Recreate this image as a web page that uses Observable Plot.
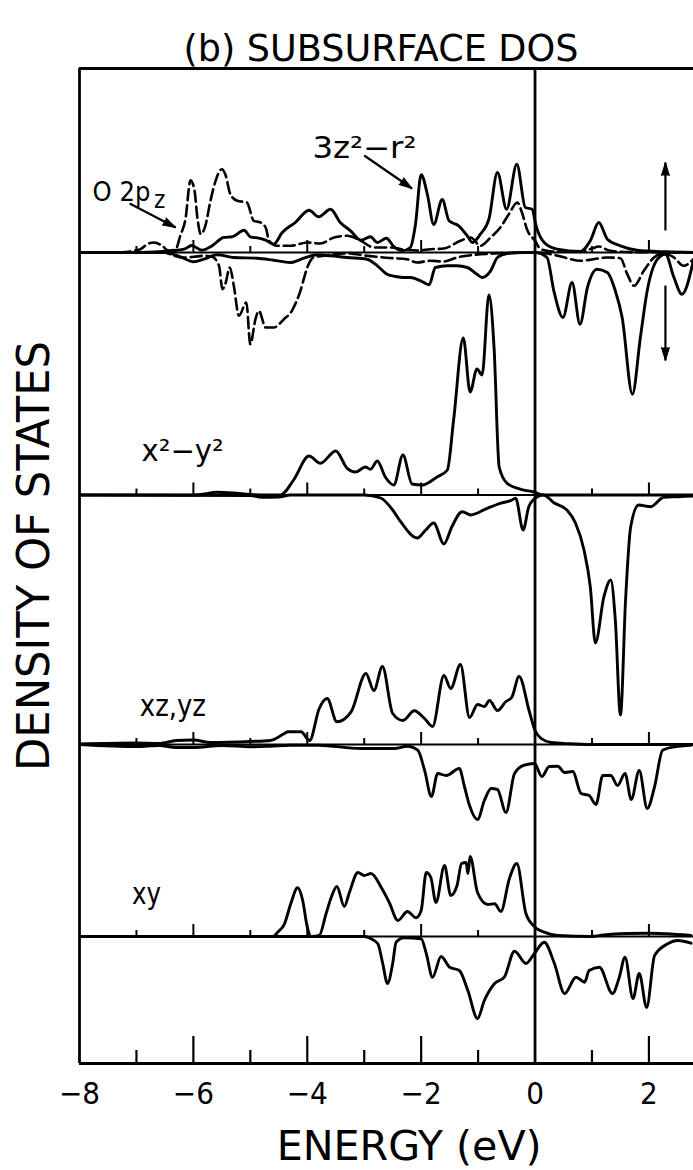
<!DOCTYPE html>
<html>
<head>
<meta charset="utf-8">
<script src="https://cdn.jsdelivr.net/npm/d3@7"></script>
<script src="https://cdn.jsdelivr.net/npm/@observablehq/plot@0.6"></script>
<style>
  html, body { margin: 0; padding: 0; background: #fff; }
  #wrap { position: relative; width: 693px; height: 1170px; overflow: hidden; background: #fff; }
  #chart { position: absolute; left: 0; top: 60px; }
  #title { position: absolute; left: 0; top: 0; }
</style>
</head>
<body>
<div id="wrap">
  <div id="chart"></div>
  <svg id="title" width="693" height="72"><text x="381" y="61" text-anchor="middle"
    font-family="'DejaVu Sans Condensed','Liberation Sans Narrow','Liberation Sans',Arial,sans-serif"
    font-size="38" textLength="395" lengthAdjust="spacingAndGlyphs" fill="#000">(b) SUBSURFACE DOS</text></svg>
</div>
<script>
// ---------------- data (DOS in arbitrary units; energy in eV) ----------------
const energyTicks = [-8, -7, -6, -5, -4, -3, -2, -1, 0, 1, 2];
const energyLabels = [-8, -6, -4, -2, 0, 2];
const panels = ["3z2-r2", "x2-y2", "xz,yz", "xy"];
const panelBase = [811, 568.5, 319, 127];   // vertical offset of each panel's zero line

// 3z^2 - r^2 : majority (up) and minority (down)
const z2Up = [[-8,0],[-6.93,0],[-6.4,1.7],[-6.16,3.3],[-6.03,7],[-5.85,2.3],[-5.67,6.7],[-5.47,15],[-5.32,15.7],[-5.11,22.3],[-5.0,15.7],[-4.85,14.3],[-4.73,12.3],[-4.59,8.3],[-4.44,20],[-4.21,30],[-3.97,42.3],[-3.8,35.7],[-3.59,43.3],[-3.42,30],[-3.24,21.7],[-3.06,12.3],[-2.89,15.7],[-2.77,10],[-2.61,14.3],[-2.48,6],[-2.33,1.7],[-2.19,5],[-2.1,28],[-2.0,77.7],[-1.89,58],[-1.78,28],[-1.63,53],[-1.51,31.7],[-1.34,26.7],[-1.19,16.7],[-1.1,10],[-0.96,18.3],[-0.81,33.3],[-0.66,80],[-0.5,43.3],[-0.32,88.3],[-0.17,45],[-0.05,43.3],[0.01,28.3],[0.16,10],[0.39,3.3],[0.8,1],[0.97,11.7],[1.12,30],[1.27,13.3],[1.5,6.7],[1.79,2.3],[2.3,0.7],[2.8,0]];
const z2Down = [[-8,0],[-6.5,0],[-6.23,4.3],[-5.99,9.3],[-5.82,6.7],[-5.58,2.3],[-5.29,5],[-4.88,5.7],[-4.59,7.7],[-4.3,10],[-4.06,5.7],[-3.83,2.3],[-3.59,3.3],[-3.3,5],[-2.95,6.7],[-2.77,13.3],[-2.6,21.7],[-2.45,24],[-2.3,25],[-2.19,25],[-2.01,28.3],[-1.86,32.3],[-1.75,15],[-1.54,13.3],[-1.37,13.3],[-1.19,15],[-1.02,21.7],[-0.93,25],[-0.78,18.3],[-0.66,5],[-0.49,1],[-0.2,0],[0,0],[0.21,5],[0.33,38.3],[0.49,65],[0.65,30],[0.79,71.7],[0.92,35],[1.09,16.7],[1.27,20],[1.41,38.3],[1.53,65],[1.71,141.7],[1.85,85],[1.97,38.3],[2.15,6.7],[2.29,1.7],[2.44,25],[2.58,41.7],[2.78,8.3]];
// O 2p_z : majority (up) and minority (down), dashed
const o2pUp = [[-7.3,0],[-6.93,3.3],[-6.81,8.3],[-6.69,10],[-6.55,6.7],[-6.43,1.7],[-6.31,3.3],[-6.23,16.7],[-6.14,33],[-6.05,72.3],[-5.98,61.7],[-5.93,35],[-5.87,18.3],[-5.79,26.7],[-5.7,51.7],[-5.61,71.7],[-5.5,83.3],[-5.44,78.3],[-5.35,58.3],[-5.23,51.7],[-5.06,50],[-4.94,31.7],[-4.82,30],[-4.73,25],[-4.67,11.7],[-4.53,6.7],[-4.29,6.7],[-4.0,10],[-3.77,9],[-3.53,15],[-3.3,16.7],[-3.06,11.7],[-2.83,5],[-2.55,5],[-2.3,3],[-2.07,2],[-1.84,3.3],[-1.6,4],[-1.31,11.7],[-1.13,15],[-0.96,6.7],[-0.78,15],[-0.61,25],[-0.46,38.3],[-0.31,50],[-0.23,40],[-0.14,23],[0,11.7],[0.1,3.3],[0.33,1],[0.8,1],[1.0,4],[1.12,6],[1.3,2],[1.6,0.5],[2.8,0]];
const o2pDown = [[-8,0],[-6.5,0],[-6.34,3.3],[-6.17,5],[-5.99,4.3],[-5.82,3.3],[-5.67,4.3],[-5.55,13.3],[-5.49,36.7],[-5.44,31.7],[-5.36,15],[-5.29,33.3],[-5.2,63.3],[-5.07,50],[-5.0,91.7],[-4.91,66.7],[-4.85,58.3],[-4.73,75],[-4.59,75],[-4.41,66.7],[-4.27,58.3],[-4.12,38.3],[-4.0,15],[-3.89,5],[-3.65,2.7],[-3.3,1],[-2.95,3.3],[-2.66,5],[-2.48,5.7],[-2.25,6.7],[-2.07,10],[-1.84,8.3],[-1.6,9],[-1.37,5],[-1.07,2.3],[-0.72,1],[0,0],[0.33,2.3],[0.56,5.7],[0.8,8.3],[1.03,6.7],[1.27,5],[1.5,5.7],[1.62,21.7],[1.74,33.3],[1.91,18.3],[2.09,5],[2.26,1],[2.44,5],[2.61,13.3],[2.78,6.7]];
// x^2 - y^2
const x2Up = [[-8,0],[-6.0,0],[-5.8,1],[-5.6,2.7],[-5.3,2],[-5.0,0.5],[-4.7,0],[-4.47,0],[-4.24,15],[-3.97,39],[-3.77,31.7],[-3.5,44],[-3.3,26.7],[-3.15,23],[-2.98,28],[-2.89,25.7],[-2.77,34],[-2.63,18],[-2.48,10],[-2.32,40],[-2.16,11],[-1.98,10],[-1.72,18],[-1.54,25],[-1.43,75],[-1.26,157],[-1.14,103],[-1.02,126],[-0.93,120],[-0.81,200],[-0.72,148],[-0.63,28],[-0.49,11.7],[-0.25,5.7],[-0.02,3],[0.15,0],[2.8,0]];
const x2Down = [[-8,0],[-5.0,0.5],[-4.8,2.3],[-4.5,2],[-4.3,0],[-3.0,0],[-2.71,3],[-2.5,15],[-2.36,26.7],[-2.07,43],[-1.92,35],[-1.78,28],[-1.6,49],[-1.46,31.7],[-1.28,16.7],[-1.13,20],[-0.84,13.3],[-0.61,8.3],[-0.43,5.7],[-0.34,3.3],[-0.21,35],[-0.11,11.7],[-0.02,4.3],[0.15,0],[0.33,7.7],[0.56,15],[0.71,28],[0.86,55],[0.97,91.7],[1.06,148],[1.21,101.7],[1.33,85],[1.41,125],[1.5,220],[1.59,105],[1.68,31.7],[1.82,10],[2.03,11.7],[2.26,2.3],[2.5,1.7],[2.78,1]];
// xz, yz
const xzUp = [[-8,0.5],[-7.0,1.5],[-6.6,1],[-6.3,4],[-6.0,4.5],[-5.7,2],[-5.0,3],[-4.65,4],[-4.4,11],[-4.34,12.7],[-4.11,12.7],[-3.96,4],[-3.79,36],[-3.65,46],[-3.48,22.7],[-3.23,32.7],[-2.97,71],[-2.83,54],[-2.68,78],[-2.5,31],[-2.32,24],[-2.12,33.7],[-1.94,26],[-1.8,18],[-1.6,69],[-1.48,56],[-1.31,80],[-1.15,27],[-1.01,40],[-0.89,38],[-0.8,44],[-0.66,34],[-0.51,43],[-0.41,47],[-0.28,68],[-0.1,33],[0,14],[0.11,6],[0.28,2],[0.6,0.7],[1.0,0],[2.8,0]];
const xzDown = [[-8,0],[-7.0,2],[-6.6,1],[-6.3,3],[-6.0,3],[-5.5,1],[-5.0,2.3],[-4.65,1.7],[-4.3,0.7],[-3.8,0.7],[-3.06,4],[-2.47,4],[-2.24,1.7],[-2.06,5.7],[-1.94,25.7],[-1.82,52],[-1.71,29],[-1.56,31],[-1.33,24],[-1.24,42],[-1.15,61],[-1.01,75],[-0.89,56],[-0.77,44],[-0.66,45],[-0.51,68],[-0.36,29],[-0.19,20.7],[-0.01,19],[0.12,32],[0.25,22],[0.4,21.7],[0.52,28],[0.66,27],[0.81,49],[0.95,51],[1.07,60],[1.19,31],[1.33,31],[1.45,41],[1.58,29],[1.69,55],[1.83,26],[1.97,64],[2.1,42],[2.24,5.7],[2.45,2.3],[2.74,0.7]];
// xy
const xyUp = [[-8,0],[-4.6,0],[-4.52,4.3],[-4.4,12.7],[-4.29,32.7],[-4.17,48.7],[-4.08,36],[-4.0,9.3],[-3.93,0],[-3.79,1],[-3.67,22.7],[-3.58,39],[-3.48,50],[-3.35,30],[-3.26,44],[-3.11,64],[-3.0,61],[-2.88,63],[-2.7,49],[-2.56,34],[-2.41,16],[-2.24,25],[-2.09,18.7],[-2.0,26],[-1.91,64],[-1.83,59],[-1.74,34],[-1.59,71],[-1.48,41],[-1.37,51],[-1.29,73],[-1.21,74],[-1.18,63],[-1.14,80],[-1.01,44],[-0.83,32],[-0.71,32.7],[-0.6,25],[-0.45,58],[-0.32,73],[-0.16,23],[0,9.3],[0.16,4.3],[0.4,1],[1.0,0],[1.2,1.5],[1.6,3],[2.0,3.3],[2.3,2.7],[2.74,1]];
const xyDown = [[-8,0],[-3.0,0],[-2.88,2.3],[-2.76,7.3],[-2.68,25.7],[-2.59,47],[-2.5,27],[-2.44,5.7],[-2.3,1.3],[-2.0,2.3],[-1.91,17],[-1.8,40.7],[-1.65,20],[-1.5,30.7],[-1.33,34],[-1.18,54],[-1.01,82],[-0.89,64],[-0.71,47],[-0.54,40.7],[-0.36,14.7],[-0.16,27],[-0.01,17],[0.16,5.7],[0.34,27],[0.52,57],[0.72,40.7],[0.87,45.7],[0.95,34],[1.13,30.7],[1.36,57],[1.48,40.7],[1.58,20.7],[1.72,62],[1.83,37],[1.96,71],[2.1,19],[2.33,7.3],[2.51,4],[2.74,6.7]];

// annotations (energy, DOS-axis position)
const panelLabels = [
  {text: "x\u00b2\u2212y\u00b2", e: -6.91, y: 603, w: 82},
  {text: "xz,yz", e: -6.94, y: 348, w: 66},
  {text: "xy", e: -7.08, y: 160, w: 29}
];
const curveLabels = [
  {text: "3z\u00b2\u2212r\u00b2", e: -3.91, y: 906, w: 104, size: 30},
  {text: "O 2p", e: -7.77, y: 863, w: null, size: 27},
  {text: "z", e: -6.69, y: 856, w: null, size: 24}
];
const pointerArrows = [
  {e1: -3.0, y1: 908, e2: -2.16, y2: 875, dash: null},
  {e1: -7.12, y1: 860, e2: -6.31, y2: 836, dash: null},
  {e1: 2.29, y1: 833, e2: 2.29, y2: 901, dash: "8,5"},
  {e1: 2.29, y1: 778, e2: 2.29, y2: 703, dash: "8,5"}
];
const xLabel = "ENERGY (eV)";
const yLabel = "DENSITY OF STATES";

// ---------------- build ----------------
const FONT = "'DejaVu Sans Condensed','Liberation Sans Narrow','Liberation Sans',Arial,sans-serif";
const W = 693, H = 1110, mL = 79, mR = 0, mT = 8, mB = 107;
const xDom = [-8, 2.783], yDom = [0, 995];
const pxPerE = (W - mL - mR) / (xDom[1] - xDom[0]);
const pxPerY = (H - mT - mB) / (yDom[1] - yDom[0]);

function toRows(pairs, base, sign, id) {
  return pairs.map(([e, v]) => ({e, y: base + sign * v, id}));
}
const solid = [
  ...toRows(z2Up, panelBase[0], 1, "z2u"), ...toRows(z2Down, panelBase[0], -1, "z2d"),
  ...toRows(x2Up, panelBase[1], 1, "x2u"), ...toRows(x2Down, panelBase[1], -1, "x2d"),
  ...toRows(xzUp, panelBase[2], 1, "xzu"), ...toRows(xzDown, panelBase[2], -1, "xzd"),
  ...toRows(xyUp, panelBase[3], 1, "xyu"), ...toRows(xyDown, panelBase[3], -1, "xyd")
];
const dashed = [...toRows(o2pUp, panelBase[0], 1, "ou"), ...toRows(o2pDown, panelBase[0], -1, "od")];

const inner = energyTicks.filter(t => t !== -8 && t !== 0);
const baseTicks = panelBase.flatMap(b => inner.map(t => ({e: t, y1: b, y2: b + (t % 2 === 0 ? 12 : 6) / pxPerY})));
const axisTicks = inner.map(t => ({e: t, y1: yDom[0], y2: yDom[0] + (t % 2 === 0 ? 27 : 13) / pxPerY}));

const heads = pointerArrows.map(a => ({
  e: a.e2, y: a.y2,
  rot: Math.atan2((a.e2 - a.e1) * pxPerE, (a.y2 - a.y1) * pxPerY) * 180 / Math.PI
}));

const fmt = d => d < 0 ? "\u2212" + (-d) : String(d);

const chart = Plot.plot({
  width: W, height: H,
  marginLeft: mL, marginRight: mR, marginTop: mT, marginBottom: mB,
  x: {domain: xDom, axis: null},
  y: {domain: yDom, axis: null},
  style: {fontFamily: FONT, background: "white", color: "black", overflow: "visible"},
  marks: [
    Plot.ruleY(panelBase, {stroke: "black", strokeWidth: 2.2}),
    Plot.ruleX(baseTicks, {x: "e", y1: "y1", y2: "y2", stroke: "black", strokeWidth: 2}),
    Plot.ruleX(axisTicks, {x: "e", y1: "y1", y2: "y2", stroke: "black", strokeWidth: 2.2}),
    Plot.line(solid, {x: "e", y: "y", z: "id", curve: "monotone-x", stroke: "black", strokeWidth: 2.9, strokeLinejoin: "round", clip: true}),
    Plot.line(dashed, {x: "e", y: "y", z: "id", curve: "monotone-x", stroke: "black", strokeWidth: 2.6, strokeDasharray: "11,5", strokeLinejoin: "round", clip: true}),
    Plot.ruleX([xDom[0], 0], {stroke: "black", strokeWidth: 2.8}),
    Plot.ruleY(yDom, {stroke: "black", strokeWidth: 2.8}),
    Plot.text(energyLabels, {x: d => d, frameAnchor: "bottom", dy: 40, lineAnchor: "bottom", text: fmt, fontSize: 31}),
    Plot.text([xLabel], {x: -2.21, frameAnchor: "bottom", dy: 96, lineAnchor: "bottom", textAnchor: "middle", text: d => d, fontSize: 40}),
    Plot.text([yLabel], {frameAnchor: "left", dx: -31, dy: -10, rotate: -90, lineAnchor: "bottom", textAnchor: "middle", text: d => d, fontSize: 44}),
    Plot.text(panelLabels, {x: "e", y: "y", text: "text", textAnchor: "start", lineAnchor: "bottom", fontSize: 30}),
    Plot.text(curveLabels, {x: "e", y: "y", text: "text", textAnchor: "start", lineAnchor: "bottom", fontSize: d => d.size}),
    Plot.link(pointerArrows, {x1: "e1", y1: "y1", x2: "e2", y2: "y2", stroke: "black", strokeWidth: 2.2, strokeDasharray: "dash"}),
    Plot.vector(heads, {x: "e", y: "y", rotate: "rot", length: 13, r: 4, anchor: "end", shape: "spike", fill: "black", stroke: "black", strokeWidth: 1})
  ]
});
document.getElementById("chart").appendChild(chart);

// enforce text widths
const widths = new Map([[xLabel, 265], [yLabel, 430]]);
panelLabels.forEach(d => widths.set(d.text, d.w));
curveLabels.forEach(d => { if (d.w) widths.set(d.text, d.w); });
d3.select(chart).selectAll("text").each(function() {
  const s = this.textContent;
  if (widths.has(s)) d3.select(this).attr("textLength", widths.get(s)).attr("lengthAdjust", "spacingAndGlyphs");
});
</script>
</body>
</html>
